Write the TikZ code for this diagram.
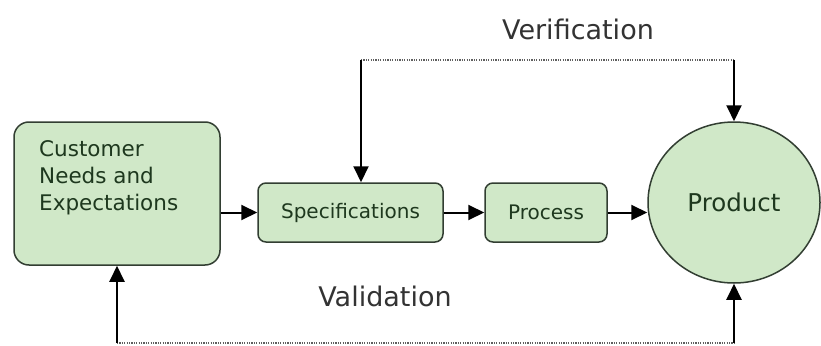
\documentclass[tikz,border=0pt]{standalone}
\usepackage{fontspec}
\setmainfont{DejaVu Sans}
\usetikzlibrary{calc}
\usetikzlibrary{arrows.meta}
\usetikzlibrary{shapes.geometric}

\definecolor{boxfill}{RGB}{208,232,200}
\definecolor{boxline}{RGB}{50,62,50}
\definecolor{boxtext}{RGB}{30,56,30}
\definecolor{dotline}{RGB}{95,95,95}

\tikzset{
  box/.style={draw=boxline, line width=1.5pt, fill=boxfill, rounded corners=8pt, text=boxtext},
  conn/.style={black, line width=2pt, -{Triangle[length=16pt,width=15pt]}},
  link/.style={dotline, line width=1.6pt, dash pattern=on 1.2pt off 1.2pt},
  caption/.style={text=black!80, font=\fontsize{27}{30}\selectfont}
}

\begin{document}
\begin{tikzpicture}[x=1pt,y=-1pt]
\useasboundingbox (0,0) rectangle (821,345);
\fill[white] (0,0) rectangle (821,345);

% boxes
\node[box, rounded corners=15pt, minimum width=206pt, minimum height=143pt] (cust) at (117,193.5) {};
\node[text=boxtext, align=left, anchor=north west, inner sep=0pt, font=\fontsize{21.5}{27}\selectfont] (custtext) at (39,140) {Customer\\Needs and\\Expectations};
\node[box, minimum width=185pt, minimum height=59pt, font=\fontsize{20}{22}\selectfont] (spec) at (350.5,212.5) {Specifications};
\node[box, minimum width=122pt, minimum height=59pt, font=\fontsize{20}{22}\selectfont] (proc) at (546,212.5) {Process};
\node[box, ellipse, sharp corners, minimum width=172pt, minimum height=161pt, inner sep=0pt, font=\fontsize{24.5}{28}\selectfont] (prod) at (734,202.5) {Product};

% flow
\draw[conn] (cust.east |- spec) -- (spec.west);
\draw[conn] (spec) -- (proc);
\draw[conn] (proc.east) -- (proc.east -| prod.west);

% verification loop
\coordinate (vl) at (361,60);
\coordinate (vr) at (prod.north |- vl);
\draw[link] (vl) -- (vr);
\draw[conn] (vl) -- (vl |- spec.north);
\draw[conn] (vr) -- (prod.north);
\node[caption] (verif) at (578,29) {Verification};

% validation loop
\coordinate (bl) at (117,343);
\coordinate (br) at (prod.south |- bl);
\draw[link] (bl) -- (br);
\draw[conn] (bl) -- (cust.south);
\draw[conn] (br) -- (prod.south);
\node[caption] (valid) at (385,296) {Validation};

\end{tikzpicture}
\end{document}
